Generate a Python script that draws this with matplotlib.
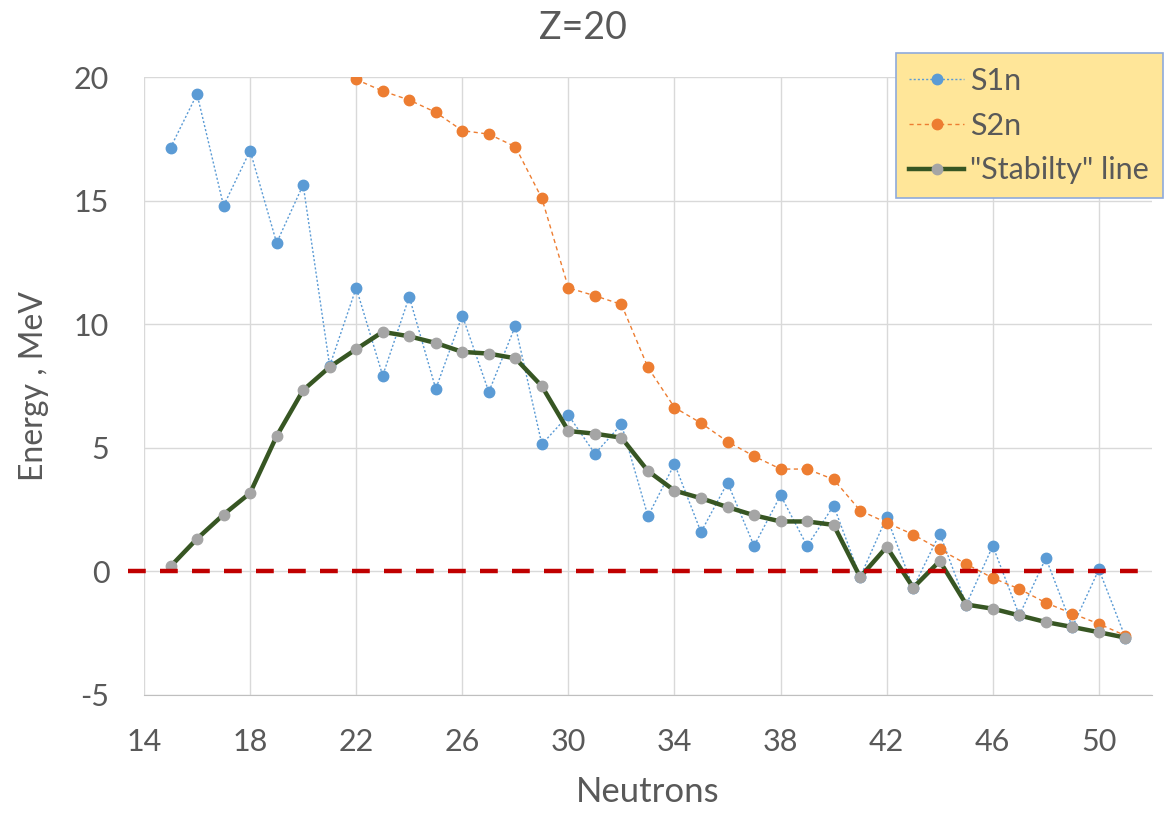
import numpy as np
import matplotlib
matplotlib.use('Agg')
import matplotlib.pyplot as plt
import matplotlib.transforms as mtransforms

plt.rcParams['font.family'] = ['Lato', 'DejaVu Sans']
plt.rcParams['axes.unicode_minus'] = False

# 中性子数
neutrons = list(range(15, 52))
# S1n (MeV)
s1n = [17.14, 19.31, 14.79, 17.02, 13.29, 15.64, 8.31, 11.47, 7.92, 11.11,
       7.38, 10.35, 7.26, 9.93, 5.14, 6.32, 4.76, 5.95, 2.23, 4.35,
       1.59, 3.59, 1.03, 3.08, 1.03, 2.66, -0.23, 2.20, -0.66, 1.53,
       -1.34, 1.03, -1.78, 0.54, -2.25, 0.08, -2.68]
# S2n (MeV), N=22から
neutrons_s2n = list(range(22, 52))
s2n = [19.90, 19.43, 19.07, 18.57, 17.83, 17.69, 17.18, 15.09, 11.47, 11.15,
       10.80, 8.25, 6.63, 6.00, 5.25, 4.66, 4.14, 4.14, 3.72, 2.46,
       1.97, 1.49, 0.89, 0.30, -0.27, -0.71, -1.27, -1.71, -2.12, -2.60]
# "Stabilty" line
stab = [0.20, 1.32, 2.30, 3.17, 5.47, 7.33, 8.27, 8.99, 9.69, 9.51,
        9.24, 8.88, 8.81, 8.62, 7.49, 5.68, 5.57, 5.41, 4.06, 3.27,
        2.96, 2.60, 2.27, 2.02, 2.02, 1.88, -0.23, 0.99, -0.66, 0.42,
        -1.34, -1.51, -1.78, -2.05, -2.25, -2.46, -2.68]

xticks = [14, 18, 22, 26, 30, 34, 38, 42, 46, 50]
yticks = [-5, 0, 5, 10, 15, 20]

txt = '#595959'

fig = plt.figure(figsize=(11.65, 8.14), dpi=100)
ax = fig.add_axes([0.1236, 0.1462, 0.8652, 0.7592])

ax.plot(neutrons, s1n, color='#5B9BD5', lw=1.0, ls=(0, (1.5, 1.5)),
        marker='o', ms=7.5, label='S1n', zorder=3)
ax.plot(neutrons_s2n, s2n, color='#ED7D31', lw=1.0, ls=(0, (3, 2.5)),
        marker='o', ms=7.5, label='S2n', zorder=3)
ax.plot(neutrons, stab, color='#375623', lw=3.2, marker='o', ms=7.5,
        mfc='#A5A5A5', mec='#A5A5A5', label='"Stabilty" line', zorder=4)

# ゼロ線 (赤破線)
trans = mtransforms.blended_transform_factory(ax.transAxes, ax.transData)
ax.plot([-0.016, 0.99], [0, 0], transform=trans, color='#C00000', lw=3.2,
        ls=(0, (4, 3.2)), clip_on=False, zorder=5)

ax.set_xlim(14, 52)
ax.set_ylim(-5, 20)
ax.set_xticks(xticks)
ax.set_yticks(yticks)
ax.grid(True, color='#D9D9D9', lw=1.0)
ax.set_axisbelow(True)
for s in ['top', 'right', 'left']:
    ax.spines[s].set_visible(False)
ax.spines['bottom'].set_color('#BFBFBF')
ax.tick_params(length=0, labelsize=22, colors=txt)
ax.tick_params(axis='x', pad=24)
ax.tick_params(axis='y', pad=25)

ax.set_xlabel('Neutrons', fontsize=25, color=txt, labelpad=14)
ax.set_ylabel('Energy , MeV', fontsize=23, color=txt, labelpad=18)
fig.text(0.5, 0.965, 'Z=20', ha='center', va='center', fontsize=27, color=txt)

leg = ax.legend(loc='upper right', bbox_to_anchor=(1163 / 1165, 1 - 53 / 814),
                bbox_transform=fig.transFigure, fontsize=22, frameon=True,
                fancybox=False, handlelength=1.8, labelspacing=0.55,
                borderpad=0.45, handletextpad=0.2, borderaxespad=0)
leg.get_frame().set_facecolor('#FFE699')
leg.get_frame().set_edgecolor('#8FAADC')
leg.get_frame().set_linewidth(1.2)
leg.get_frame().set_alpha(1)
for t in leg.get_texts():
    t.set_color(txt)
leg.set_zorder(10)

fig.savefig('out.png', dpi=100)
